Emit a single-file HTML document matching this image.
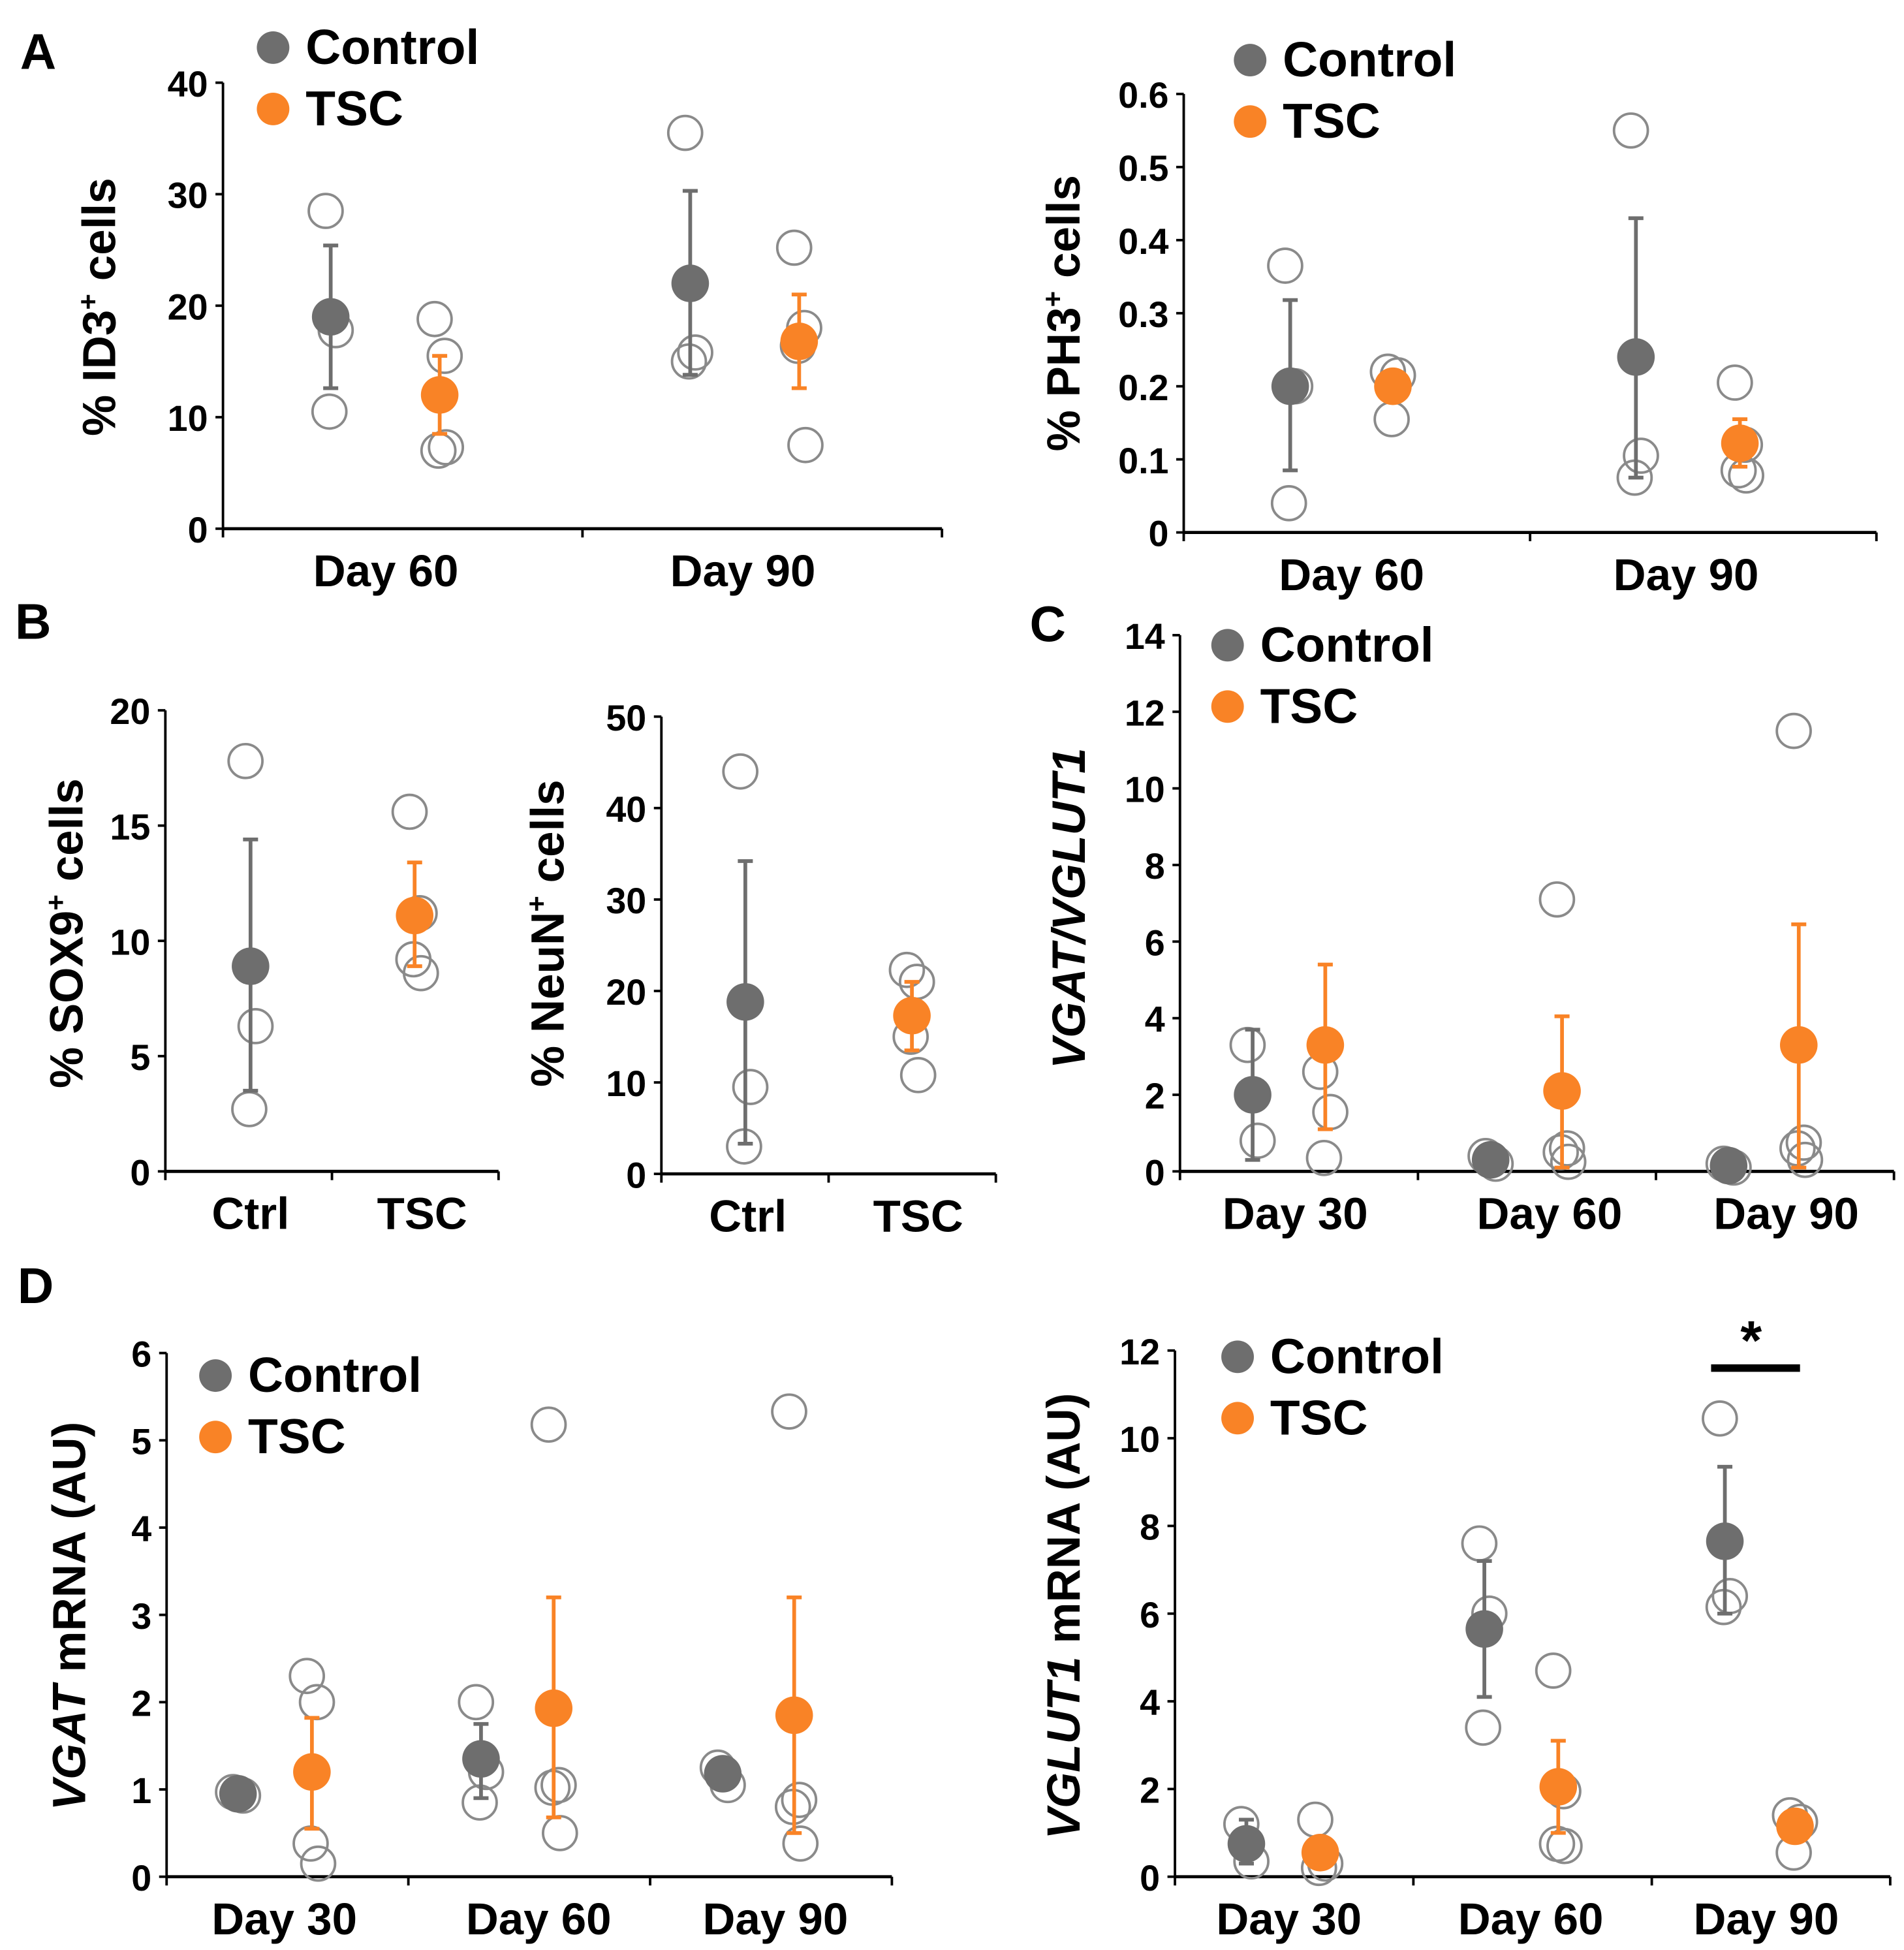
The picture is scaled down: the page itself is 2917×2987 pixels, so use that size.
<!DOCTYPE html>
<html><head><meta charset="utf-8">
<style>
html,body{margin:0;padding:0;background:#fff;}
svg{display:block;}
text{font-family:"Liberation Sans",Arial,sans-serif;font-weight:bold;fill:#000;}
.tick{font-family:"Liberation Sans Narrow","Liberation Sans",sans-serif;font-size:29px;}
</style></head>
<body>
<svg id="fig" width="2917" height="2987" viewBox="0 0 1520 1556.5" xmlns="http://www.w3.org/2000/svg"></svg>
<script>
// ===== Panel A left: ID3 =====
const id3Groups = ["Day 60","Day 90"];
const id3Ticks = [0,10,20,30,40];
const id3CtrlMean = [19,22];
const id3CtrlLo = [12.6,13.8];
const id3CtrlHi = [25.4,30.3];
const id3CtrlPts = [[28.5,17.8,10.5],[35.5,15.8,15]];
const id3TscMean = [12,16.8];
const id3TscLo = [8.5,12.6];
const id3TscHi = [15.5,21];
const id3TscPts = [[18.8,15.5,7,7.3],[25.2,18,16.4,7.5]];
// ===== Panel A right: PH3 =====
const ph3Groups = ["Day 60","Day 90"];
const ph3Ticks = [0,0.1,0.2,0.3,0.4,0.5,0.6];
const ph3CtrlMean = [0.2,0.24];
const ph3CtrlLo = [0.085,0.075];
const ph3CtrlHi = [0.318,0.43];
const ph3CtrlPts = [[0.365,0.2,0.04],[0.55,0.105,0.075]];
const ph3TscMean = [0.2,0.122];
const ph3TscLo = [0.2,0.09];
const ph3TscHi = [0.2,0.155];
const ph3TscPts = [[0.22,0.215,0.155],[0.205,0.12,0.085,0.078]];
// ===== Panel B: SOX9 / NeuN =====
const sox9Groups = ["Ctrl","TSC"];
const sox9Ticks = [0,5,10,15,20];
const sox9Mean = [8.9,11.1];
const sox9Lo = [3.5,8.9];
const sox9Hi = [14.4,13.4];
const sox9Pts = [[17.8,6.3,2.7],[15.6,11.2,9.2,8.6]];
const neunGroups = ["Ctrl","TSC"];
const neunTicks = [0,10,20,30,40,50];
const neunMean = [18.8,17.3];
const neunLo = [3.3,13.5];
const neunHi = [34.2,21];
const neunPts = [[44,9.5,3],[22.3,21,15,10.8]];
// ===== Panel C: VGAT/VGLUT1 =====
const ratioGroups = ["Day 30","Day 60","Day 90"];
const ratioTicks = [0,2,4,6,8,10,12,14];
const ratioCtrlMean = [2.0,0.3,0.15];
const ratioCtrlLo = [0.3,0.3,0.15];
const ratioCtrlHi = [3.7,0.3,0.15];
const ratioCtrlPts = [[3.3,0.8],[0.4,0.2],[0.2,0.1]];
const ratioTscMean = [3.3,2.1,3.3];
const ratioTscLo = [1.1,0.1,0.1];
const ratioTscHi = [5.4,4.05,6.45];
const ratioTscPts = [[2.6,1.55,0.35],[7.1,0.6,0.5,0.25],[11.5,0.75,0.6,0.3]];
// ===== Panel D left: VGAT =====
const vgatGroups = ["Day 30","Day 60","Day 90"];
const vgatTicks = [0,1,2,3,4,5,6];
const vgatCtrlMean = [0.95,1.35,1.18];
const vgatCtrlLo = [0.95,0.9,1.18];
const vgatCtrlHi = [0.95,1.75,1.18];
const vgatCtrlPts = [[0.97,0.93],[2.0,1.2,0.85],[1.25,1.05]];
const vgatTscMean = [1.2,1.93,1.85];
const vgatTscLo = [0.55,0.68,0.5];
const vgatTscHi = [1.82,3.2,3.2];
const vgatTscPts = [[2.3,2.0,0.38,0.15],[5.18,1.05,1.02,0.5],[5.33,0.88,0.8,0.38]];
// ===== Panel D right: VGLUT1 =====
const vglutGroups = ["Day 30","Day 60","Day 90"];
const vglutTicks = [0,2,4,6,8,10,12];
const vglutCtrlMean = [0.75,5.65,7.65];
const vglutCtrlLo = [0.3,4.1,6.0];
const vglutCtrlHi = [1.3,7.2,9.35];
const vglutCtrlPts = [[1.2,0.35],[7.6,6.0,3.4],[10.45,6.4,6.15]];
const vglutTscMean = [0.55,2.05,1.15];
const vglutTscLo = [0.55,1.0,1.15];
const vglutTscHi = [0.55,3.1,1.15];
const vglutTscPts = [[1.3,0.3,0.2],[4.7,1.95,0.75,0.7],[1.4,1.25,0.55]];

const NS="http://www.w3.org/2000/svg";
const svg=document.getElementById('fig');
const GRAY="#6e6e6e", ORANGE="#f98326", OPEN="#8a8a8a";
function mk(tag,attrs,parent){const e=document.createElementNS(NS,tag);for(const k in attrs)e.setAttribute(k,attrs[k]);(parent||svg).appendChild(e);return e;}
function txt(s,attrs,parent){const e=mk('text',attrs,parent);e.textContent=s;return e;}

function panel(cfg){
  const g=mk('g',{});
  
  
  const ymax=cfg.ticks[cfg.ticks.length-1], ymin=cfg.ticks[0];
  const Y=v=>cfg.y0-(v-ymin)/(ymax-ymin)*(cfg.y0-cfg.y1);
  const n=cfg.groups.length, w=(cfg.xEnd-cfg.x0)/n;
  const ya=mk('line',{x1:cfg.x0,y1:cfg.y1,x2:cfg.x0,y2:cfg.y0,stroke:'#000','stroke-width':2},g);
  
  
  const xa=mk('line',{x1:cfg.x0,y1:cfg.y0,x2:cfg.xEnd,y2:cfg.y0,stroke:'#000','stroke-width':2.5},g);
  
  
  for(let i=0;i<=n;i++){mk('line',{x1:cfg.x0+w*i,y1:cfg.y0,x2:cfg.x0+w*i,y2:cfg.y0+7,stroke:'#000','stroke-width':2},g);}
  cfg.ticks.forEach(t=>{
    mk('line',{x1:cfg.x0-6,y1:Y(t),x2:cfg.x0,y2:Y(t),stroke:'#000','stroke-width':2},g);
    const tl=txt(String(t),{x:cfg.x0-12,y:Y(t)+11,'text-anchor':'end',class:'tick'},g);
    
    
  });
  cfg.groups.forEach((s,i)=>{
    const cl=txt(s,{x:cfg.labelX[i],y:cfg.y0+46,'text-anchor':'middle','font-size':36},g);
    
    
  });
  cfg.series.forEach(sr=>{
    sr.mean.forEach((m,i)=>{
      if(m===null||m===undefined) return;
      const cx=sr.xs[i];
      sr.pts[i].forEach((p,j)=>{
        const jit=[-4,4,-1,5][j%4];
        const c=mk('circle',{cx:cx+jit,cy:Y(p),r:13.5,fill:'none',stroke:OPEN,'stroke-width':2},g);
        
        
      });
      if(sr.hi[i]!==sr.lo[i]){
        mk('line',{x1:cx,y1:Y(sr.hi[i]),x2:cx,y2:Y(sr.lo[i]),stroke:sr.color,'stroke-width':3},g);
        mk('line',{x1:cx-6,y1:Y(sr.hi[i]),x2:cx+6,y2:Y(sr.hi[i]),stroke:sr.color,'stroke-width':3},g);
        mk('line',{x1:cx-6,y1:Y(sr.lo[i]),x2:cx+6,y2:Y(sr.lo[i]),stroke:sr.color,'stroke-width':3},g);
      }
      const mc=mk('circle',{cx:cx,cy:Y(m),r:15,fill:sr.color},g);
      
      
    });
  });
  const tt=mk('text',{x:0,y:0,'text-anchor':'middle','font-size':37,transform:`translate(${cfg.titleX},${cfg.titleY}) rotate(-90)`},g);
  
  
  tt.innerHTML=cfg.title;
  if(cfg.legend){
    const L=cfg.legend;
    const l1=mk('g',{},g);
    
    
    mk('circle',{cx:L[0],cy:L[1],r:13,fill:GRAY},l1);
    txt('Control',{x:L[0]+26,y:L[1]+13,'font-size':39},l1);
    const l2=mk('g',{},g);
    
    
    mk('circle',{cx:L[0],cy:L[1]+49,r:13,fill:ORANGE},l2);
    txt('TSC',{x:L[0]+26,y:L[1]+62,'font-size':39},l2);
  }
}
function two(cm,clo,chi,cp,tm,tlo,thi,tp,cx,tx){
  return [{label:'control',color:GRAY,mean:cm,lo:clo,hi:chi,pts:cp,xs:cx},
          {label:'tsc',color:ORANGE,mean:tm,lo:tlo,hi:thi,pts:tp,xs:tx}];
}
const sup=s=>s+'<tspan dy="-14" font-size="22">+</tspan><tspan dy="14"> cells</tspan>';
panel({name:'chart-id3',x0:178,xEnd:752,y0:422,y1:66,ticks:id3Ticks,groups:id3Groups,labelX:[308,593],
  series:two(id3CtrlMean,id3CtrlLo,id3CtrlHi,id3CtrlPts,id3TscMean,id3TscLo,id3TscHi,id3TscPts,[264,551],[351,638]),
  title:sup('% ID3'),titleX:92,titleY:245,legend:[218,38]});
panel({name:'chart-ph3',x0:945,xEnd:1498,y0:425,y1:75,ticks:ph3Ticks,groups:ph3Groups,labelX:[1079,1346],
  series:two(ph3CtrlMean,ph3CtrlLo,ph3CtrlHi,ph3CtrlPts,ph3TscMean,ph3TscLo,ph3TscHi,ph3TscPts,[1030,1306],[1112,1389]),
  title:sup('% PH3'),titleX:862,titleY:250,legend:[998,48]});
panel({name:'chart-sox9',x0:132,xEnd:398,y0:935,y1:567,ticks:sox9Ticks,groups:sox9Groups,labelX:[200,337],
  series:[{label:'control',color:GRAY,mean:[sox9Mean[0],null],lo:[sox9Lo[0],null],hi:[sox9Hi[0],null],pts:[sox9Pts[0],[]],xs:[200,0]},
          {label:'tsc',color:ORANGE,mean:[null,sox9Mean[1]],lo:[null,sox9Lo[1]],hi:[null,sox9Hi[1]],pts:[[],sox9Pts[1]],xs:[0,331]}],
  title:sup('% SOX9'),titleX:66,titleY:745});
panel({name:'chart-neun',x0:528,xEnd:795,y0:937,y1:572,ticks:neunTicks,groups:neunGroups,labelX:[597,733],
  series:[{label:'control',color:GRAY,mean:[neunMean[0],null],lo:[neunLo[0],null],hi:[neunHi[0],null],pts:[neunPts[0],[]],xs:[595,0]},
          {label:'tsc',color:ORANGE,mean:[null,neunMean[1]],lo:[null,neunLo[1]],hi:[null,neunHi[1]],pts:[[],neunPts[1]],xs:[0,728]}],
  title:sup('% NeuN'),titleX:450,titleY:745});
panel({name:'chart-vgat-vglut1-ratio',x0:942,xEnd:1512,y0:935,y1:507,ticks:ratioTicks,groups:ratioGroups,labelX:[1034,1237,1426],
  series:two(ratioCtrlMean,ratioCtrlLo,ratioCtrlHi,ratioCtrlPts,ratioTscMean,ratioTscLo,ratioTscHi,ratioTscPts,[1000,1190,1380],[1058,1247,1436]),
  title:'<tspan font-style="italic">VGAT/VGLUT1</tspan>',titleX:866,titleY:725,legend:[980,515]});
panel({name:'chart-vgat-mrna',x0:133,xEnd:712,y0:1498,y1:1080,ticks:vgatTicks,groups:vgatGroups,labelX:[227,430,619],
  series:two(vgatCtrlMean,vgatCtrlLo,vgatCtrlHi,vgatCtrlPts,vgatTscMean,vgatTscLo,vgatTscHi,vgatTscPts,[190,384,577],[249,442,634]),
  title:'<tspan font-style="italic">VGAT</tspan> mRNA (AU)',titleX:68,titleY:1290,legend:[172,1098]});
panel({name:'chart-vglut1-mrna',x0:938,xEnd:1509,y0:1498,y1:1078,ticks:vglutTicks,groups:vglutGroups,labelX:[1029,1222,1410],
  series:two(vglutCtrlMean,vglutCtrlLo,vglutCtrlHi,vglutCtrlPts,vglutTscMean,vglutTscLo,vglutTscHi,vglutTscPts,[995,1185,1377],[1054,1244,1433]),
  title:'<tspan font-style="italic">VGLUT1</tspan> mRNA (AU)',titleX:862,titleY:1290,legend:[988,1083]});
const sig=mk('g',{});


mk('line',{x1:1366,y1:1092,x2:1437,y2:1092,stroke:'#000','stroke-width':6},sig);
txt('*',{x:1398,y:1085,'text-anchor':'middle','font-size':44},sig);
[['A',16,55],['B',12,510],['C',822,512],['D',14,1040]].forEach(p=>{
  const t=txt(p[0],{x:p[1],y:p[2],'font-size':40});
  
  
});
</script>
</body></html>
